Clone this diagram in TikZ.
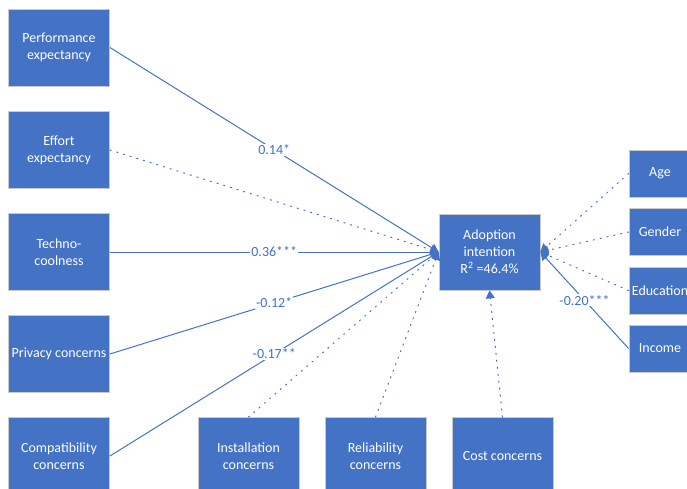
\documentclass[tikz,border=0pt]{standalone}
\usepackage{fontspec}
\setmainfont{Carlito}
\usepackage{tikz}
\usetikzlibrary{arrows.meta, positioning, calc}

\definecolor{boxblue}{HTML}{4472C4}
\definecolor{boxedge}{HTML}{C9C9C9}

\begin{document}
\begin{tikzpicture}[x=1pt, y=-1pt,
    font=\fontsize{14}{17}\selectfont,
    construct/.style={draw=boxedge, line width=0.8pt, fill=boxblue, text=white,
        minimum width=101pt, minimum height=77pt, align=center, inner sep=2pt},
    control/.style={construct, minimum width=62pt, minimum height=47pt, inner sep=1pt},
    path/.style={draw=boxblue, line width=1pt, -{Triangle[length=8pt,width=9pt]}},
    nopath/.style={path, dash pattern=on 1.3pt off 5.7pt, line cap=round},
    coef/.style={fill=white, text=boxblue, inner sep=1pt}]
\useasboundingbox (0,0) rectangle (687,489);
\clip (0,0) rectangle (687,489);

% Predictors on the left
\node[construct] (perf) at (59,47.5) {Performance\\expectancy};
\node[construct] (effort) at (59,150) {Effort\\expectancy};
\node[construct] (techno) at (59,252) {Techno-\\coolness};
\node[construct] (privacy) at (59,354) {Privacy concerns};
\node[construct] (compat) at (59,456) {Compatibility\\concerns};

% Predictors at the bottom
\node[construct] (install) at (248.5,456) {Installation\\concerns};
\node[construct] (reliab) at (375.5,456) {Reliability\\concerns};
\node[construct] (cost) at (502.5,456) {Cost concerns};

% Outcome
\node[construct, minimum height=76pt] (adopt) at (489.5,252) {Adoption\\intention\\R\textsuperscript{2} =46.4\%};

% Controls on the right
\node[control] (age) at (660,173.5) {Age};
\node[control] (gender) at (660,232) {Gender};
\node[control] (edu) at (660,290.5) {Education};
\node[control] (income) at (660,348.5) {Income};

% Paths into adoption intention
\draw[path] (perf.east) -- node[coef] {0.14*} (adopt.west);
\draw[nopath] (effort.east) -- (adopt.west);
\draw[path] (techno.east) -- node[coef] {0.36***} (adopt.west);
\draw[path] (privacy.east) -- node[coef] {-0.12*} (adopt.west);
\draw[path] (compat.east) -- node[coef] {-0.17**} (adopt.west);
\draw[nopath] (install.north) -- (adopt.west);
\draw[nopath] (reliab.north) -- (adopt.west);
\draw[nopath] (cost.north) -- (adopt.south);

% Control paths
\draw[nopath] (age.west) -- (adopt.east);
\draw[nopath] (gender.west) -- (adopt.east);
\draw[nopath] (edu.west) -- (adopt.east);
\draw[path] (income.west) -- node[coef] {-0.20***} (adopt.east);
\end{tikzpicture}
\end{document}
